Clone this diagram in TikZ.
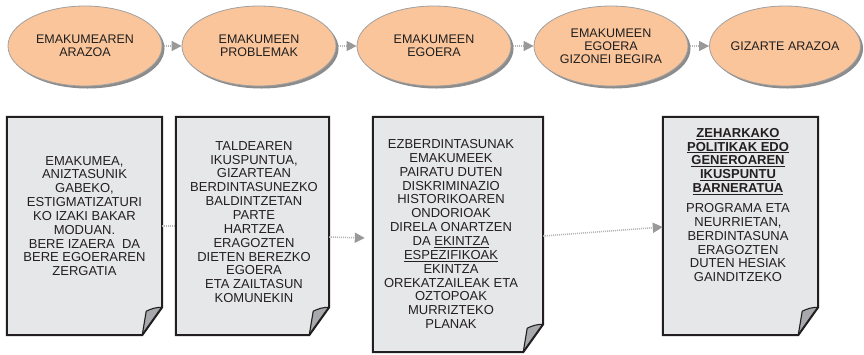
\documentclass[tikz,border=0pt]{standalone}
\usepackage{fontspec}
\setmainfont{Liberation Sans}
\usetikzlibrary{shapes.geometric,shadows,arrows.meta,backgrounds}
\definecolor{peach}{HTML}{FBC59B}
\definecolor{ellline}{HTML}{A0A0A0}
\definecolor{docfill}{HTML}{E6E7E8}
\definecolor{docline}{HTML}{231F20}
\definecolor{curlfill}{HTML}{A7A9AC}
\definecolor{conn}{HTML}{B4B4B4}
\definecolor{tipc}{HTML}{999999}
\tikzset{
  stage/.style={ellipse, draw=ellline, line width=0.8pt, fill=peach,
    minimum width=154pt, minimum height=80pt, inner sep=0pt,
    drop shadow={shadow xshift=2.5pt, shadow yshift=-2.5pt, fill=black!45, opacity=1}},
  stagetext/.style={align=center, font=\fontsize{12.5}{13}\selectfont, text=black!88},
  docbox/.style={rectangle, inner sep=0pt},
  doctext/.style={align=center, inner sep=0pt, font=\fontsize{13}{13.85}\selectfont, text=docline},
  dotline/.style={draw=conn, line width=1.5pt, dash pattern=on 1pt off 1pt},
  flow/.style={dotline, -{Triangle[length=10pt,width=10pt,color=tipc]}},
}
\newcommand\docpage[1]{%
  \fill[docfill] (#1.north west) -- (#1.north east) -- ([yshift=28pt]#1.south east)
     -- ([xshift=-20pt]#1.south east) -- (#1.south west) -- cycle;
  \filldraw[fill=curlfill, draw=docline, line width=1.1pt, line join=round]
     ([yshift=28pt]#1.south east) to[bend right=12] ([xshift=-16pt,yshift=24pt]#1.south east)
     -- ([xshift=-20pt]#1.south east) -- cycle;
  \draw[docline, line width=2pt, line join=miter] (#1.north west) -- (#1.north east)
     -- ([yshift=28pt]#1.south east) -- ([xshift=-20pt]#1.south east) -- (#1.south west) -- cycle;
}
\begin{document}
\begin{tikzpicture}[x=1pt,y=-1pt]
\useasboundingbox (0,0) rectangle (864,354);
% stages
\node[stage] (e1) at (85,46) {};
\node[stage] (e2) at (259,46) {};
\node[stage] (e3) at (434,46) {};
\node[stage] (e4) at (611,46) {};
\node[stage, minimum width=151pt] (e5) at (785,46) {};
\node[stagetext] (l1) at (e1) {EMAKUMEAREN\\ARAZOA};
\node[stagetext] (l2) at (e2) {EMAKUMEEN\\PROBLEMAK};
\node[stagetext] (l3) at (e3) {EMAKUMEEN\\EGOERA};
\node[stagetext] (l4) at (e4) {EMAKUMEEN\\EGOERA\\GIZONEI BEGIRA};
\node[stagetext] (l5) at (e5) {GIZARTE ARAZOA};
\draw[flow] ([xshift=2pt]e1.east) -- (e2.west);
\draw[flow] ([xshift=2pt]e2.east) -- (e3.west);
\draw[flow] ([xshift=2pt]e3.east) -- (e4.west);
\draw[flow] ([xshift=2pt]e4.east) -- (e5.west);
% documents
\node[docbox, minimum width=155pt, minimum height=218pt] (d1) at (84.5,226) {};
\node[docbox, minimum width=153pt, minimum height=218pt] (d2) at (252.5,226) {};
\node[docbox, minimum width=170pt, minimum height=235pt] (d3) at (458,234.5) {};
\node[docbox, minimum width=155pt, minimum height=218pt] (d4) at (740.5,226) {};
\docpage{d1}
\docpage{d2}
\docpage{d3}
\docpage{d4}
\node[doctext] (t1) at (84.5,216) {EMAKUMEA,\\ANIZTASUNIK\\GABEKO,\\ESTIGMATIZATURI\\KO IZAKI BAKAR\\MODUAN.\\BERE IZAERA~ DA\\BERE EGOERAREN\\ZERGATIA};
\node[doctext] (t2) at (254,222) {TALDEAREN\\IKUSPUNTUA,\\GIZARTEAN\\BERDINTASUNEZKO\\BALDINTZETAN\\PARTE\\HARTZEA\\ERAGOZTEN\\DIETEN BEREZKO\\EGOERA\\ETA ZAILTASUN\\KOMUNEKIN};
\node[doctext] (t3) at (451,234) {EZBERDINTASUNAK\\EMAKUMEEK\\PAIRATU DUTEN\\DISKRIMINAZIO\\HISTORIKOAREN\\ONDORIOAK\\DIRELA ONARTZEN\\DA \underline{EKINTZA}\\\underline{ESPEZIFIKOAK}\\EKINTZA\\OREKATZAILEAK ETA\\OZTOPOAK\\MURRIZTEKO\\PLANAK};
\node[doctext] (t4) at (738,205) {\textbf{\underline{ZEHARKAKO}}\\\textbf{\underline{POLITIKAK EDO}}\\\textbf{\underline{GENEROAREN}}\\\textbf{\underline{IKUSPUNTU}}\\\textbf{\underline{BARNERATUA}}\\[6pt]PROGRAMA ETA\\NEURRIETAN,\\BERDINTASUNA\\ERAGOZTEN\\DUTEN HESIAK\\GAINDITZEKO};
% connectors between documents
\draw[dotline] (d1.east) -- (d2.west);
\draw[flow] ([yshift=-11pt]d2.east) -- ([xshift=-8pt,yshift=-3.5pt]d3.west);
\draw[flow] ([yshift=-1.5pt]d3.east) -- ([yshift=-1pt]d4.west);
\end{tikzpicture}
\end{document}
